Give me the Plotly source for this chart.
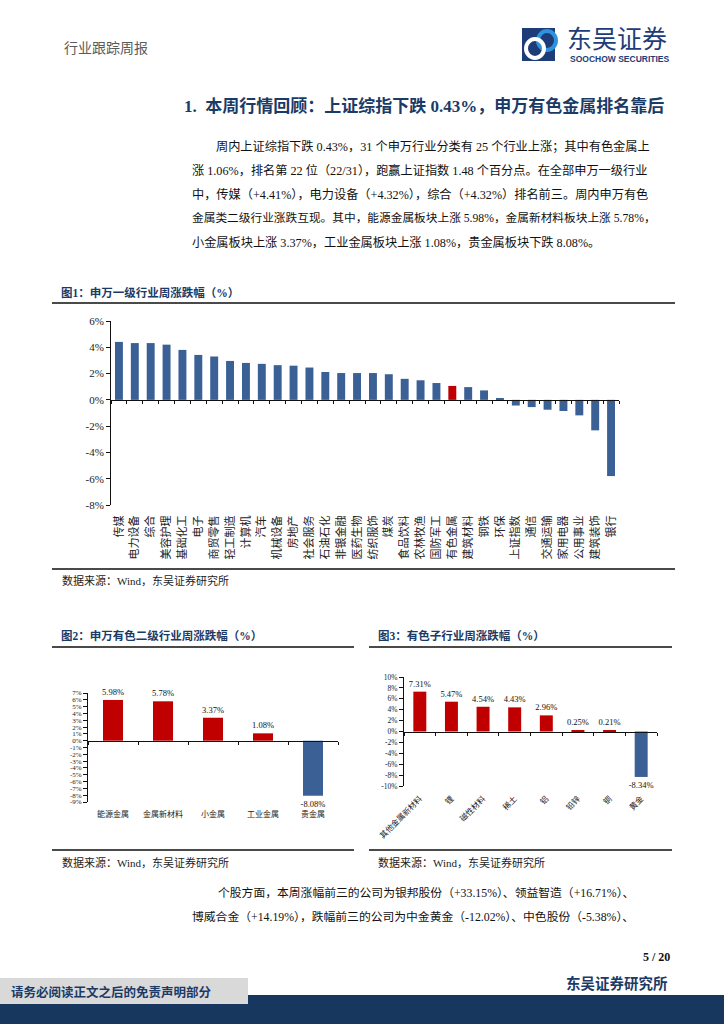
import plotly.graph_objects as go

W, H = 724, 1024

# ---------------- data ----------------
sw1_categories = ["传媒", "电力设备", "综合", "美容护理", "基础化工", "电子", "商贸零售", "轻工制造",
                  "计算机", "汽车", "机械设备", "房地产", "社会服务", "石油石化", "非银金融", "医药生物",
                  "纺织服饰", "煤炭", "食品饮料", "农林牧渔", "国防军工", "有色金属", "建筑材料", "钢铁",
                  "环保", "上证指数", "通信", "交通运输", "家用电器", "公用事业", "建筑装饰", "银行"]
sw1_values = [4.41, 4.32, 4.32, 4.20, 3.80, 3.42, 3.30, 2.96, 2.81, 2.74, 2.64, 2.60, 2.46, 2.12,
              2.04, 2.04, 2.04, 1.95, 1.60, 1.49, 1.28, 1.06, 0.97, 0.72, 0.10, -0.43, -0.55, -0.75,
              -0.85, -1.18, -2.32, -5.80]
sw1_highlight = "有色金属"
sw1_ticks = [6, 4, 2, 0, -2, -4, -6, -8]

sw2_categories = ["能源金属", "金属新材料", "小金属", "工业金属", "贵金属"]
sw2_values = [5.98, 5.78, 3.37, 1.08, -8.08]
sw2_ticks = [7, 6, 5, 4, 3, 2, 1, 0, -1, -2, -3, -4, -5, -6, -7, -8, -9]

sub_categories = ["其他金属新材料", "锂", "磁性材料", "稀土", "铝", "铅锌", "铜", "黄金"]
sub_values = [7.31, 5.47, 4.54, 4.43, 2.96, 0.25, 0.21, -8.34]
sub_ticks = [10, 8, 6, 4, 2, 0, -2, -4, -6, -8, -10]

# ---------------- style ----------------
BLUE = "#3b6095"
RED = "#c00000"
NAVY = "#1b3a66"
LOGO = "#1d3c78"
SERIF = "Liberation Serif, Noto Sans CJK SC, serif"
CJK = "Noto Sans CJK SC, sans-serif"
RULE = "#4a4a4a"


def fx(px):
    return px / W


def fy(py):
    return 1 - py / H


fig = go.Figure()
layout_axes = {}


def add_chart(n, cats, vals, colors, x_px, y_px, yr, ticks, ytick_size, xlab_size, xangle,
              bar_w, show_text, xlab_standoff):
    xa = "x" if n == 1 else f"x{n}"
    ya = "y" if n == 1 else f"y{n}"
    xo = f"x{n + 3}"
    fig.add_trace(go.Bar(
        x=cats, y=vals, marker=dict(color=colors, line=dict(width=0)), width=bar_w,
        xaxis=xa, yaxis=ya, showlegend=False, hoverinfo="skip",
        texttemplate="%{y:.2f}%" if show_text else None,
        textposition="outside" if show_text else "none",
        textfont=dict(family=SERIF, size=8.5, color="#111"),
        constraintext="none", cliponaxis=False))
    # invisible trace carrying the zero-line axis
    fig.add_trace(go.Scatter(x=[-0.5, len(cats) - 0.5], y=[0, 0], xaxis=xo, yaxis=ya,
                             mode="markers", marker=dict(opacity=0), hoverinfo="skip",
                             showlegend=False))
    y0, y1 = fy(y_px[1]), fy(y_px[0])
    zero_pos = y0 + (0 - yr[0]) / (yr[1] - yr[0]) * (y1 - y0)
    xname = "xaxis" if n == 1 else f"xaxis{n}"
    yname = "yaxis" if n == 1 else f"yaxis{n}"
    layout_axes[xname] = dict(
        domain=[fx(x_px[0]), fx(x_px[1])], range=[-0.5, len(cats) - 0.5], type="category",
        anchor=ya, tickangle=xangle, showline=False, showgrid=False, zeroline=False,
        automargin=False,
        ticks="outside", ticklen=xlab_standoff, tickcolor="rgba(0,0,0,0)",
        tickfont=dict(family=CJK, size=xlab_size, color="#222"))
    layout_axes[yname] = dict(
        domain=[y0, y1], range=list(yr), anchor=xa, tickvals=ticks, automargin=False,
        ticktext=[f"{t}%" for t in ticks], showline=True, linecolor="#111", linewidth=1,
        ticks="outside", ticklen=4, tickcolor="#111", showgrid=False, zeroline=False,
        tickfont=dict(family=SERIF, size=ytick_size, color="#222"))
    layout_axes[f"xaxis{n + 3}"] = dict(
        overlaying=xa, anchor="free", position=zero_pos, range=[-0.5, len(cats) - 0.5],
        tickvals=[i - 0.5 for i in range(len(cats) + 1)], showticklabels=False,
        automargin=False,
        ticks="outside", ticklen=3, tickcolor="#111", showline=True, linecolor="#111",
        linewidth=1, showgrid=False, zeroline=False)


c1 = [RED if c == sw1_highlight else BLUE for c in sw1_categories]
add_chart(1, sw1_categories, sw1_values, c1, (111, 619), (321, 505), (-8, 6), sw1_ticks,
          11, 11, -90, 0.5, False, 5)

c2 = [RED if v >= 0 else BLUE for v in sw2_values]
add_chart(2, sw2_categories, sw2_values, c2, (88, 338), (693, 802), (-9, 7), sw2_ticks,
          7, 8, 0, 0.4, True, 4)

c3 = [RED if v >= 0 else BLUE for v in sub_values]
add_chart(3, sub_categories, sub_values, c3, (404, 657), (677, 786), (-10, 10), sub_ticks,
          7.5, 8, -45, 0.41, True, 4)

annotations = []


def text(px, py, s, size, color="#222", family=CJK, xanchor="left"):
    annotations.append(dict(x=fx(px), y=fy(py), xref="paper", yref="paper", text=s,
                            showarrow=False, xanchor=xanchor, yanchor="middle",
                            font=dict(family=family, size=size, color=color)))


# header
text(62, 47, "行业跟踪周报", 14, "#5a5a5a")
text(565, 37, "东吴证券", 25, LOGO)
text(568, 58.5, "<b>SOOCHOW SECURITIES</b>", 8.5, LOGO, "Liberation Sans, Arial, sans-serif")

# title
text(182, 106, "<b>1.\u00a0\u00a0本周行情回顾：上证综指下跌 0.43%，申万有色金属排名靠后</b>", 17, NAVY, SERIF)

para = [
    (214, 146, "周内上证综指下跌 0.43%，31 个申万行业分类有 25 个行业上涨；其中有色金属上", 12.2),
    (190, 170, "涨 1.06%，排名第 22 位（22/31），跑赢上证指数 1.48 个百分点。在全部申万一级行业", 12.2),
    (190, 194, "中，传媒（+4.41%），电力设备（+4.32%），综合（+4.32%）排名前三。周内申万有色", 12.2),
    (190, 218, "金属类二级行业涨跌互现。其中，能源金属板块上涨 5.98%，金属新材料板块上涨 5.78%，", 11.7),
    (190, 242, "小金属板块上涨 3.37%，工业金属板块上涨 1.08%，贵金属板块下跌 8.08%。", 12.2),
]
for x, y, s, sz in para:
    text(x, y, s, sz, "#111", SERIF)

# captions & sources
text(59, 292, "<b>图1：申万一级行业周涨跌幅（%）</b>", 11.5, NAVY, SERIF)
text(60, 580, "数据来源：Wind，东吴证券研究所", 11, "#222", SERIF)
text(59, 635, "<b>图2：申万有色二级行业周涨跌幅（%）</b>", 11.5, NAVY, SERIF)
text(376, 635, "<b>图3：有色子行业周涨跌幅（%）</b>", 11.5, NAVY, SERIF)
text(60, 862, "数据来源：Wind，东吴证券研究所", 11, "#222", SERIF)
text(376, 862, "数据来源：Wind，东吴证券研究所", 11, "#222", SERIF)

para2 = [
    (216, 893, "个股方面，本周涨幅前三的公司为银邦股份（+33.15%）、领益智造（+16.71%）、", 11.8),
    (190, 917, "博威合金（+14.19%），跌幅前三的公司为中金黄金（-12.02%）、中色股份（-5.38%）、", 11.8),
]
for x, y, s, sz in para2:
    text(x, y, s, sz, "#111", SERIF)

text(672, 957, "<b>5 / 20</b>", 12, "#111", SERIF, "right")
text(670, 982, "<b>东吴证券研究所</b>", 14.5, NAVY, CJK, "right")
text(9, 991, "<b>请务必阅读正文之后的免责声明部分</b>", 12.5, NAVY, CJK)

shapes = []


def hline(x0, x1, y, w=2, color=RULE):
    shapes.append(dict(type="line", xref="paper", yref="paper", x0=fx(x0), x1=fx(x1),
                       y0=fy(y), y1=fy(y), line=dict(color=color, width=w)))


def rect(x0, y0, x1, y1, color):
    shapes.append(dict(type="rect", xref="paper", yref="paper", x0=fx(x0), x1=fx(x1),
                       y0=fy(y1), y1=fy(y0), fillcolor=color, line=dict(width=0)))


hline(52, 675, 303)
hline(52, 675, 569)
hline(52, 354, 647)
hline(369, 672, 647)
hline(52, 354, 850)
hline(369, 672, 850)

# footer band
rect(0, 995, W, H, "#17375e")
rect(0, 978, 248, 1004, "#d9d9d9")

# logo icon
rect(522, 28, 555, 61, LOGO)
shapes.append(dict(type="circle", xref="paper", yref="paper", x0=fx(538), x1=fx(556),
                   y0=fy(50), y1=fy(31), line=dict(color="#2e93dc", width=4)))
shapes.append(dict(type="circle", xref="paper", yref="paper", x0=fx(526), x1=fx(544),
                   y0=fy(58), y1=fy(39), line=dict(color="white", width=4)))

fig.update_layout(
    width=W, height=H, margin=dict(l=0, r=0, t=0, b=0, pad=0), autosize=False,
    paper_bgcolor="white", plot_bgcolor="white", showlegend=False,
    annotations=annotations, shapes=shapes, bargap=0.5, **layout_axes)

fig.write_html("out.html", config={"displayModeBar": False},
               post_script="document.body.style.margin='0';document.body.style.overflow='hidden';")
